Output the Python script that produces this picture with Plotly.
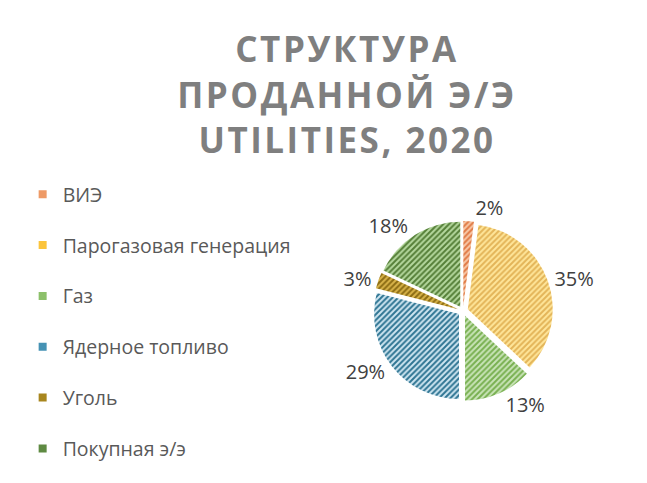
import plotly.graph_objects as go

labels = ["ВИЭ", "Парогазовая генерация", "Газ", "Ядерное топливо", "Уголь", "Покупная э/э"]
values = [2, 35, 13, 29, 3, 18]
fg_colors = ["#E07A45", "#E3B458", "#78B050", "#2F7593", "#8C6C14", "#557F38"]
bg_colors = ["#F8C9A8", "#FFE69A", "#C9E4B8", "#CFE6F1", "#D9B44A", "#B5D89E"]
legend_colors = ["#EE9A66", "#FBC43C", "#8CC06A", "#4592B4", "#A8861E", "#5E8A42"]
title_lines = ["СТРУКТУРА", "ПРОДАННОЙ Э/Э", "UTILITIES, 2020"]

W, H = 647, 483
cx, cy, R = 463, 311, 90

fig = go.Figure()

fig.add_trace(go.Pie(
    labels=labels,
    values=values,
    sort=False,
    direction="clockwise",
    rotation=0,
    pull=[0.06] * len(values),
    texttemplate="%{percent:.0%}",
    textposition="outside",
    textfont=dict(family="Open Sans", size=20, color="#404040"),
    marker=dict(
        colors=fg_colors,
        line=dict(width=0),
        pattern=dict(shape="/", fgcolor=fg_colors, bgcolor=bg_colors,
                     size=4, solidity=0.5, fillmode="replace"),
    ),
    domain=dict(x=[(cx - R) / W, (cx + R) / W], y=[1 - (cy + R) / H, 1 - (cy - R) / H]),
    showlegend=False,
    hoverinfo="label+percent",
))

for i, (lab, col) in enumerate(zip(labels, legend_colors)):
    fig.add_trace(go.Scatter(
        x=[None], y=[None], mode="markers", name=lab,
        marker=dict(symbol="square", size=8, color=col),
        legendgroup=f"g{i}", showlegend=True,
    ))

title_text = "<br>".join(
    f'<span style="letter-spacing:2.5px">{t}</span>' for t in title_lines
)

fig.update_layout(
    width=W, height=H,
    margin=dict(l=0, r=0, t=0, b=0),
    paper_bgcolor="white",
    plot_bgcolor="white",
    xaxis=dict(visible=False),
    yaxis=dict(visible=False),
    title=dict(
        text=title_text,
        x=347 / W, xanchor="center",
        y=1 - 62 / H, yanchor="top",
        font=dict(family="Open Sans", size=35, color="#7F7F7F", weight="bold"),
    ),
    legend=dict(
        x=0.035, xanchor="left",
        y=1 - 175 / H, yanchor="top",
        font=dict(family="Open Sans", size=19.5, color="#595959"),
        tracegroupgap=22.5,
        bgcolor="rgba(0,0,0,0)",
    ),
)

fig.write_html("out.html")
